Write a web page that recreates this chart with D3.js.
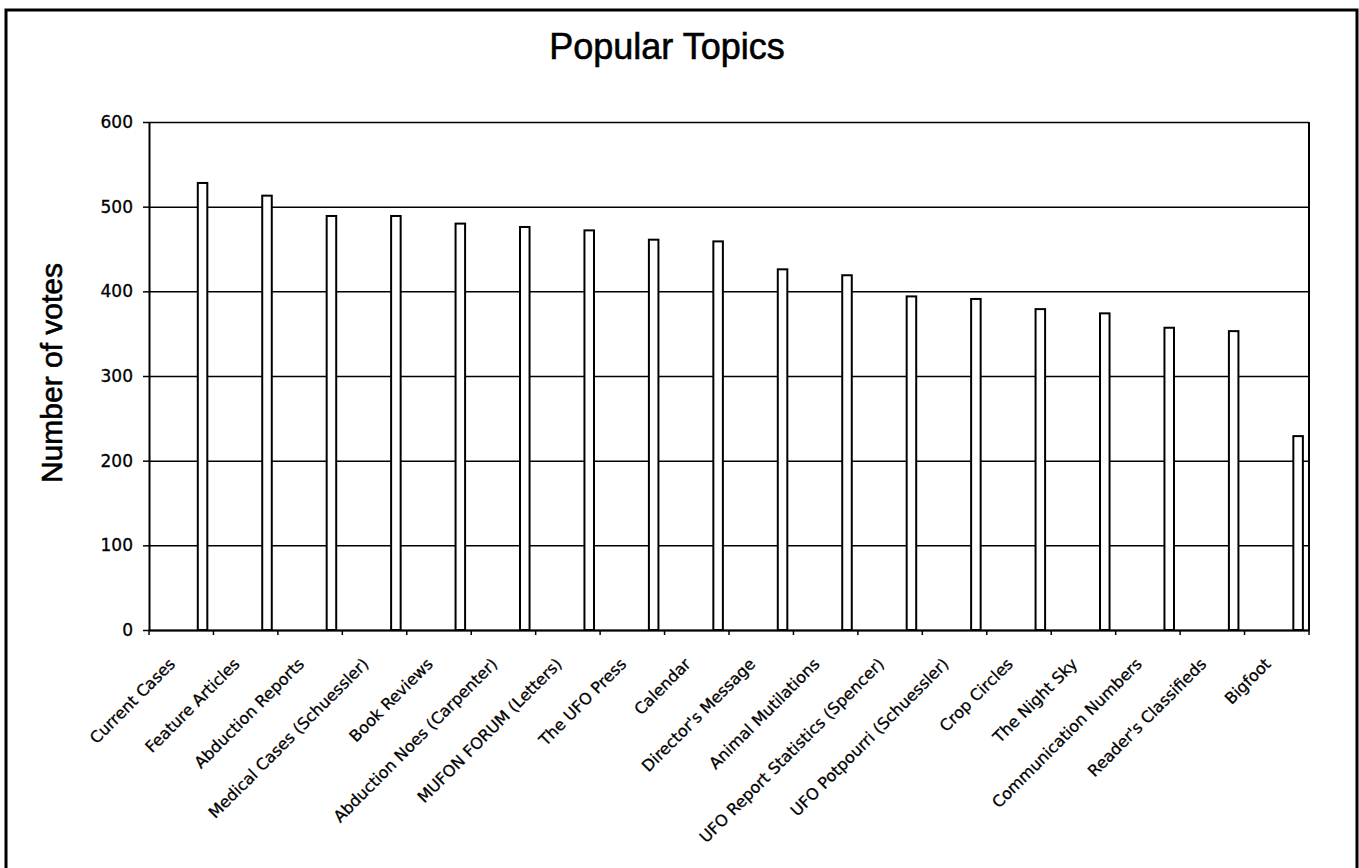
<!DOCTYPE html>
<html>
<head>
<meta charset="utf-8">
<script src="https://cdn.jsdelivr.net/npm/d3@7"></script>
<style>
	body { margin: 0; background: #fff; }
	svg { display: block; font-family: "Liberation Sans", Arial, sans-serif; }
	.grid line { stroke: #000; stroke-width: 1.5; }
	.grid .domain { display: none; }
	.axis .domain { stroke: #000; stroke-width: 2; }
	.axis line { stroke: #000; stroke-width: 1.5; }
	.axis text { fill: #000; font-family: "DejaVu Sans", Verdana, sans-serif; stroke: #000; stroke-width: 0.3; }
	.bar { fill: #fff; stroke: #000; stroke-width: 2; }
	.titre { stroke: #000; stroke-width: 0.6; }
</style>
</head>
<body>
<svg id="chart" width="1359" height="868"></svg>
<script>
const categories = [
	"Current Cases", "Feature Articles", "Abduction Reports", "Medical Cases (Schuessler)",
	"Book Reviews", "Abduction Noes (Carpenter)", "MUFON FORUM (Letters)", "The UFO Press",
	"Calendar", "Director's Message", "Animal Mutilations", "UFO Report Statistics (Spencer)",
	"UFO Potpourri (Schuessler)", "Crop Circles", "The Night Sky", "Communication Numbers",
	"Reader's Classifieds", "Bigfoot"
];
const votes = [528, 513, 489, 489, 480, 476, 472, 461, 459, 426, 419, 394, 391, 379, 374, 357, 353, 229];
const yTicks = [0, 100, 200, 300, 400, 500, 600];

const title = "Popular Topics";
const yLabel = "Number of votes";

const dimensions = {
	width: 1359,
	height: 868,
	margin: { top: 122, right: 50, bottom: 238, left: 149 }
};
dimensions.inner = {
	width: dimensions.width - dimensions.margin.left - dimensions.margin.right,
	height: dimensions.height - dimensions.margin.top - dimensions.margin.bottom
};

const svg_outer = d3.select("#chart");

// cadre autour du graphique
svg_outer.append("rect")
	.attr("x", 6)
	.attr("y", 10)
	.attr("width", 1351)
	.attr("height", 900)
	.attr("fill", "none")
	.attr("stroke", "#000")
	.attr("stroke-width", 3);

svg_outer.append("text")
	.attr("class", "titre")
	.attr("x", 667)
	.attr("y", 59)
	.attr("text-anchor", "middle")
	.style("font-size", "36px")
	.text(title);

svg_outer.append("text")
	.attr("class", "titre")
	.attr("transform", "translate(62, 373) rotate(-90)")
	.attr("text-anchor", "middle")
	.style("font-size", "30px")
	.text(yLabel);

const svg = svg_outer.append("g")
	.attr("transform", "translate(" + dimensions.margin.left + ", " + dimensions.margin.top + ")");

const x = d3.scaleBand()
	.domain(categories)
	.range([0, dimensions.inner.width]);

const y = d3.scaleLinear()
	.domain([0, 600])
	.range([dimensions.inner.height, 0]);

svg.append("g")
	.attr("class", "grid")
	.call(d3.axisLeft(y).tickValues(yTicks).tickSize(-dimensions.inner.width).tickFormat(""));

// bord droit de la zone de tracé
svg.append("line")
	.attr("x1", dimensions.inner.width)
	.attr("x2", dimensions.inner.width)
	.attr("y1", 0)
	.attr("y2", dimensions.inner.height)
	.attr("stroke", "#000")
	.attr("stroke-width", 2);

const bw = x.bandwidth();
svg.append("g")
	.selectAll("rect")
	.data(votes)
	.join("rect")
	.attr("class", "bar")
	.attr("x", (d, i) => x(categories[i]) + bw * 0.757)
	.attr("y", d => y(d))
	.attr("width", bw * 0.148)
	.attr("height", d => dimensions.inner.height - y(d));

svg.append("g")
	.attr("class", "axis axis--y")
	.call(d3.axisLeft(y).tickValues(yTicks).tickSize(6).tickPadding(10).tickSizeOuter(0))
	.selectAll("text")
	.style("font-size", "17px");

const xAxis = svg.append("g")
	.attr("class", "axis axis--x")
	.attr("transform", "translate(0, " + dimensions.inner.height + ")")
	.call(d3.axisBottom(x).tickSize(5).tickSizeOuter(0));

xAxis.selectAll(".tick line")
	.attr("x1", -bw / 2)
	.attr("x2", -bw / 2);

xAxis.append("line")
	.attr("x1", dimensions.inner.width)
	.attr("x2", dimensions.inner.width)
	.attr("y2", 5)
	.attr("stroke", "#000")
	.attr("stroke-width", 1.5);

xAxis.selectAll(".tick text")
	.attr("x", 0)
	.attr("y", 0)
	.attr("dy", 0)
	.attr("transform", "translate(-5, 35) rotate(-45)")
	.style("text-anchor", "end")
	.style("font-size", "16px");
</script>
</body>
</html>
